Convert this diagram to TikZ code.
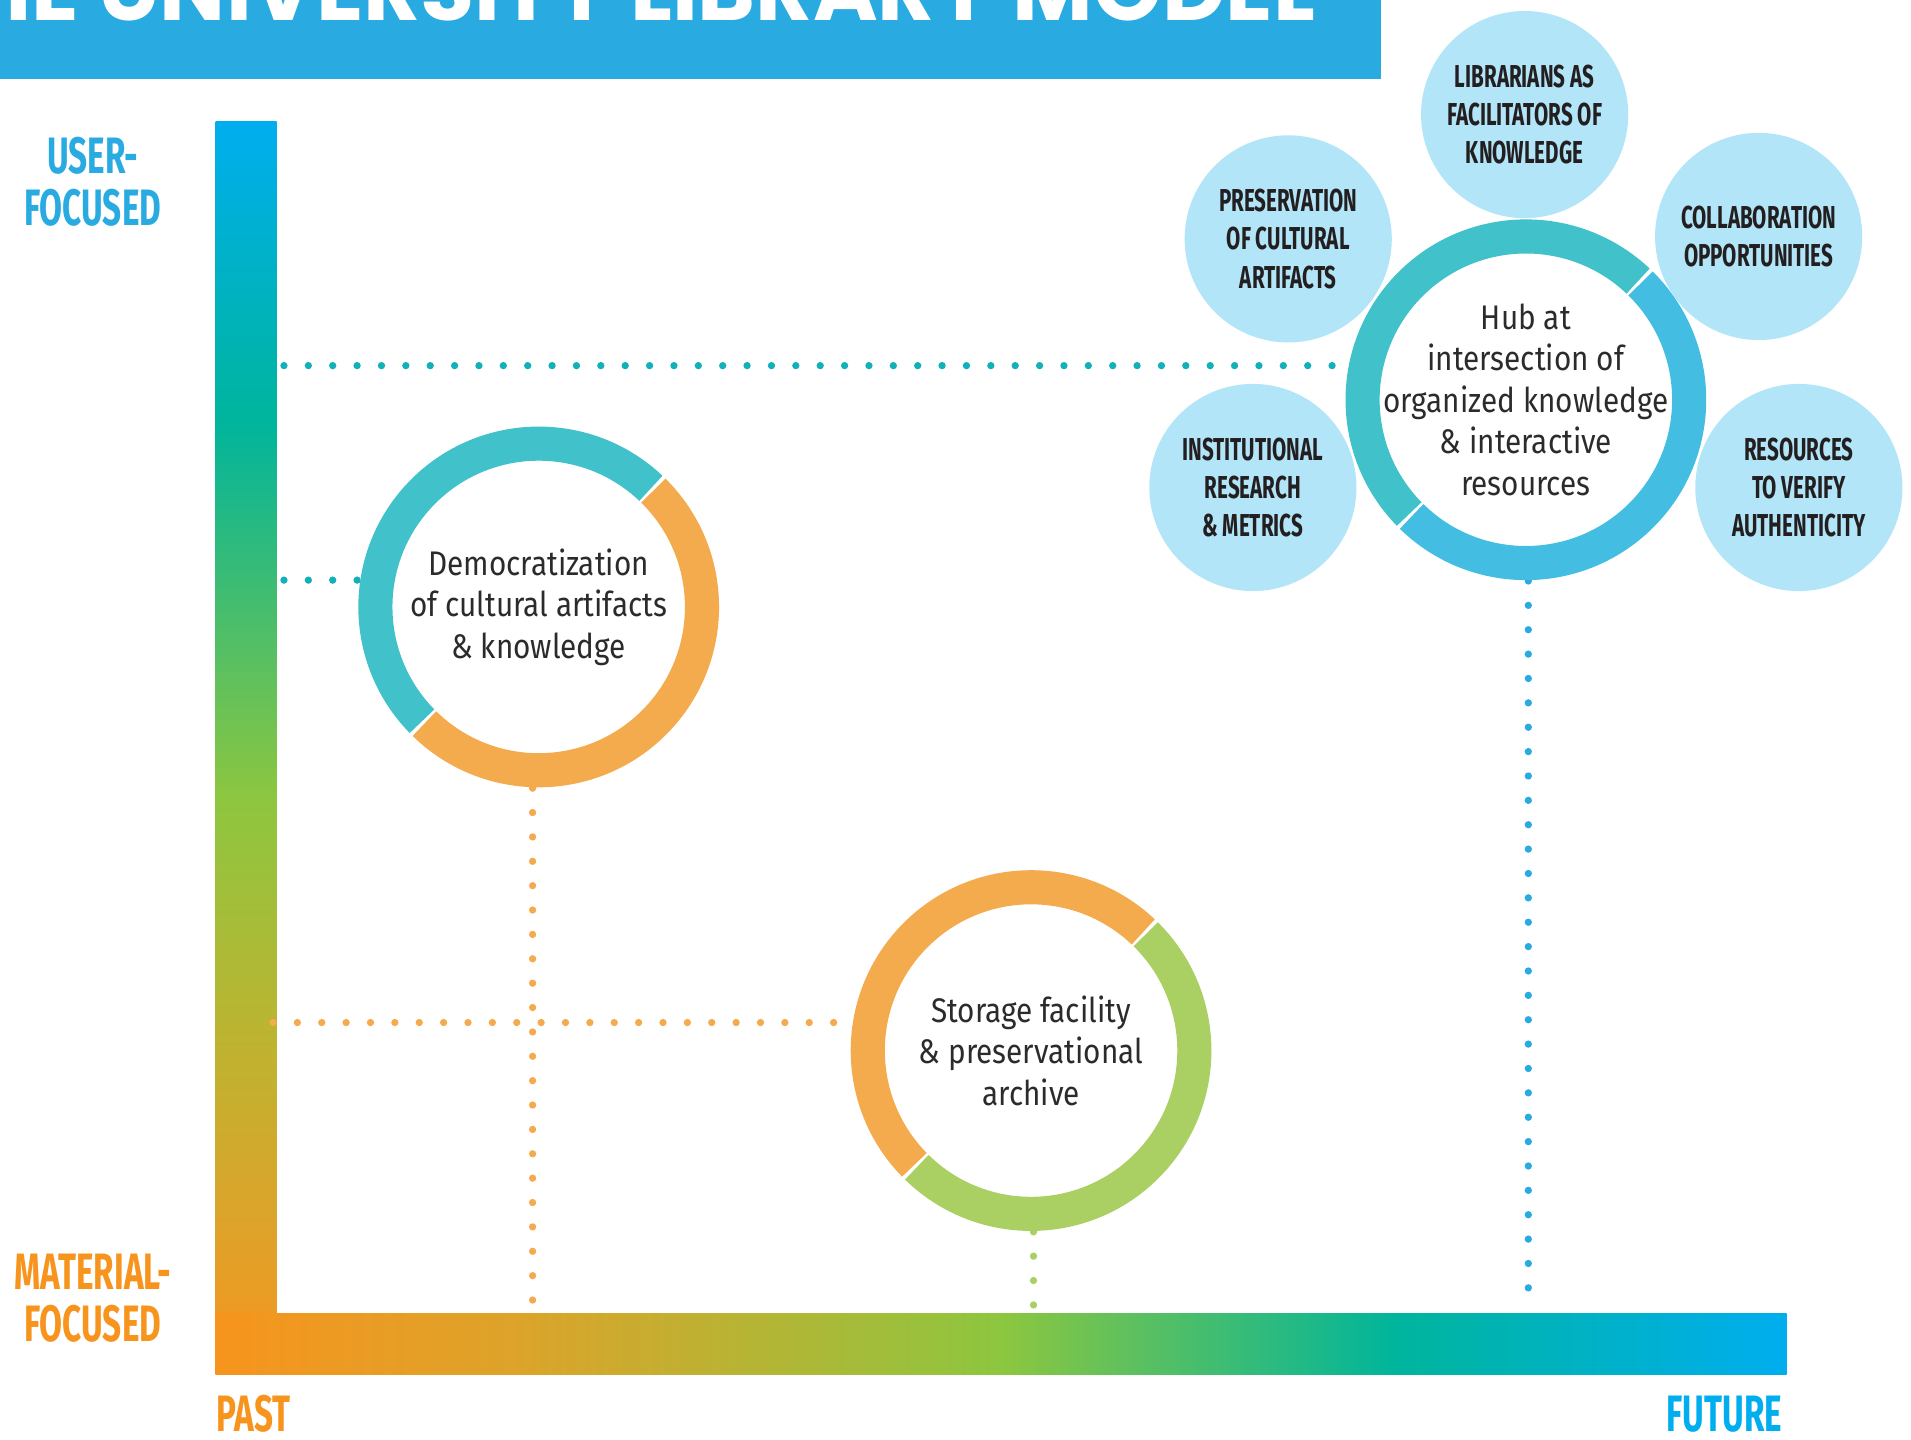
\documentclass[tikz,border=0pt]{standalone}
\usepackage{fontspec}
\setmainfont{Fira Sans}
\newfontfamily\bodyfont{Fira Sans}[FakeStretch=0.87]
\newfontfamily\capsfont{Fira Sans}[FakeStretch=0.65]
\newfontfamily\titlefont{Poppins}

\definecolor{barblue}{HTML}{29AAE1}
\definecolor{axblue}{HTML}{00AEEF}
\definecolor{axteal}{HTML}{00B59C}
\definecolor{axgreen}{HTML}{8DC63F}
\definecolor{axolive}{HTML}{BDB431}
\definecolor{axmust}{HTML}{DDA32A}
\definecolor{axorange}{HTML}{F7941D}
\definecolor{ringteal}{HTML}{41C1C9}
\definecolor{ringorange}{HTML}{F3AB4D}
\definecolor{ringgreen}{HTML}{AAD063}
\definecolor{ringblue}{HTML}{43BDE2}
\definecolor{satblue}{HTML}{B3E5F8}
\definecolor{dotteal}{HTML}{12B0B8}
\definecolor{labblue}{HTML}{29ABE2}
\definecolor{ink}{HTML}{231F20}
\definecolor{bodyink}{HTML}{2B2B2B}

\pgfdeclareverticalshading{vbar}{100bp}{color(0bp)=(axorange); color(25bp)=(axorange);
  color(31bp)=(axmust); color(38.5bp)=(axolive); color(48bp)=(axgreen);
  color(63bp)=(axteal); color(75bp)=(axblue); color(100bp)=(axblue)}
\pgfdeclarehorizontalshading{hbar}{100bp}{color(0bp)=(axorange); color(25bp)=(axorange);
  color(34.5bp)=(axmust); color(50bp)=(axgreen); color(62.5bp)=(axteal);
  color(75bp)=(axblue); color(100bp)=(axblue)}

\begin{document}
\begin{tikzpicture}[x=0.1mm, y=0.1mm,
  ring/.style={circle, minimum size=29.6mm, inner sep=0pt, align=center, text=bodyink,
    font=\bodyfont\fontsize{7.97}{9.67}\selectfont},
  sat/.style={circle, fill=satblue, minimum size=17mm, inner sep=0pt, align=center, text=ink,
    font=\capsfont\bfseries\fontsize{7.4}{8.96}\selectfont},
  axlab/.style={inner sep=0pt, align=center, font=\capsfont\bfseries\fontsize{11.95}{12.2}\selectfont},
  seg/.style={line width=2.8mm},
  dots/.style={line width=0.6mm, line cap=round, dash pattern=on 0pt off 2mm}]
\useasboundingbox (0,0) rectangle (1568,1181);
\clip (0,0) rectangle (1568,1181);

% title
\fill[barblue] (0,1116) rectangle (1133,1181);
\node[anchor=base east, inner sep=0pt, text=white, font=\titlefont\bfseries\fontsize{20.5}{22}\selectfont]
  (title) at (1080,1164) {THE UNIVERSITY LIBRARY MODEL};

% axes
\shade[shading=vbar] (177,53) rectangle (227,1081);
\shade[shading=hbar] (177,53) rectangle (1466,103);
\node[axlab, text=labblue] (user) at (76,1032) {USER-\\FOCUSED};
\node[axlab, text=axorange] (material) at (76,116) {MATERIAL-\\FOCUSED};
\node[axlab, text=axorange, anchor=west] (past) at (177,21) {PAST};
\node[axlab, text=axblue, anchor=east] (future) at (1463,21) {FUTURE};

\coordinate (userlvl) at (233,881);
\coordinate (demlvl) at (233,705);
\coordinate (storelvl) at (224,342);
\coordinate (timeaxis) at (0,106);

% rings
\node[ring] (dem) at (442,683) {Democratization\\of cultural artifacts\\\& knowledge};
\node[ring] (store) at (846,319) {Storage facility\\\& preservational\\archive};
\node[ring] (hub) at (1252,853) {Hub at\\intersection of\\organized knowledge\\\& interactive\\resources};

% satellites
\node[sat] (libr) at (1251,1087) {LIBRARIANS AS\\FACILITATORS OF\\KNOWLEDGE};
\node[sat] (pres) at (1057,985) {PRESERVATION\\OF CULTURAL\\ARTIFACTS};
\node[sat] (coll) at (1443,987) {COLLABORATION\\OPPORTUNITIES};
\node[sat] (inst) at (1028,781) {INSTITUTIONAL\\RESEARCH\\\& METRICS};
\node[sat] (reso) at (1476,781) {RESOURCES\\TO VERIFY\\AUTHENTICITY};

% dotted guides
\draw[dots, dotteal] (userlvl) -- (userlvl -| hub.west);
\draw[dots, dotteal] (demlvl) -- (demlvl -| dem.west);
\draw[dots, ringorange] (storelvl) -- (storelvl -| store.west);
\draw[dots, ringorange] ([xshift=-0.5mm]dem.south) -- ([xshift=-0.5mm]dem.south |- timeaxis);
\draw[dots, ringgreen] ([xshift=0.2mm]store.south) -- ([xshift=0.2mm]store.south |- timeaxis);
\draw[dots, labblue] ([xshift=0.2mm]hub.south) -- ([xshift=0.2mm]hub.south |- timeaxis);

\foreach \n/\a/\b in {dem/ringteal/ringorange, store/ringorange/ringgreen, hub/ringteal/ringblue}
{
    \draw[seg, \a] (\n.center) ++(46.6:134) arc[start angle=46.6, end angle=224.4, radius=134];
    \draw[seg, \b] (\n.center) ++(225.6:134) arc[start angle=225.6, end angle=405.4, radius=134];
}
\end{tikzpicture}
\end{document}
